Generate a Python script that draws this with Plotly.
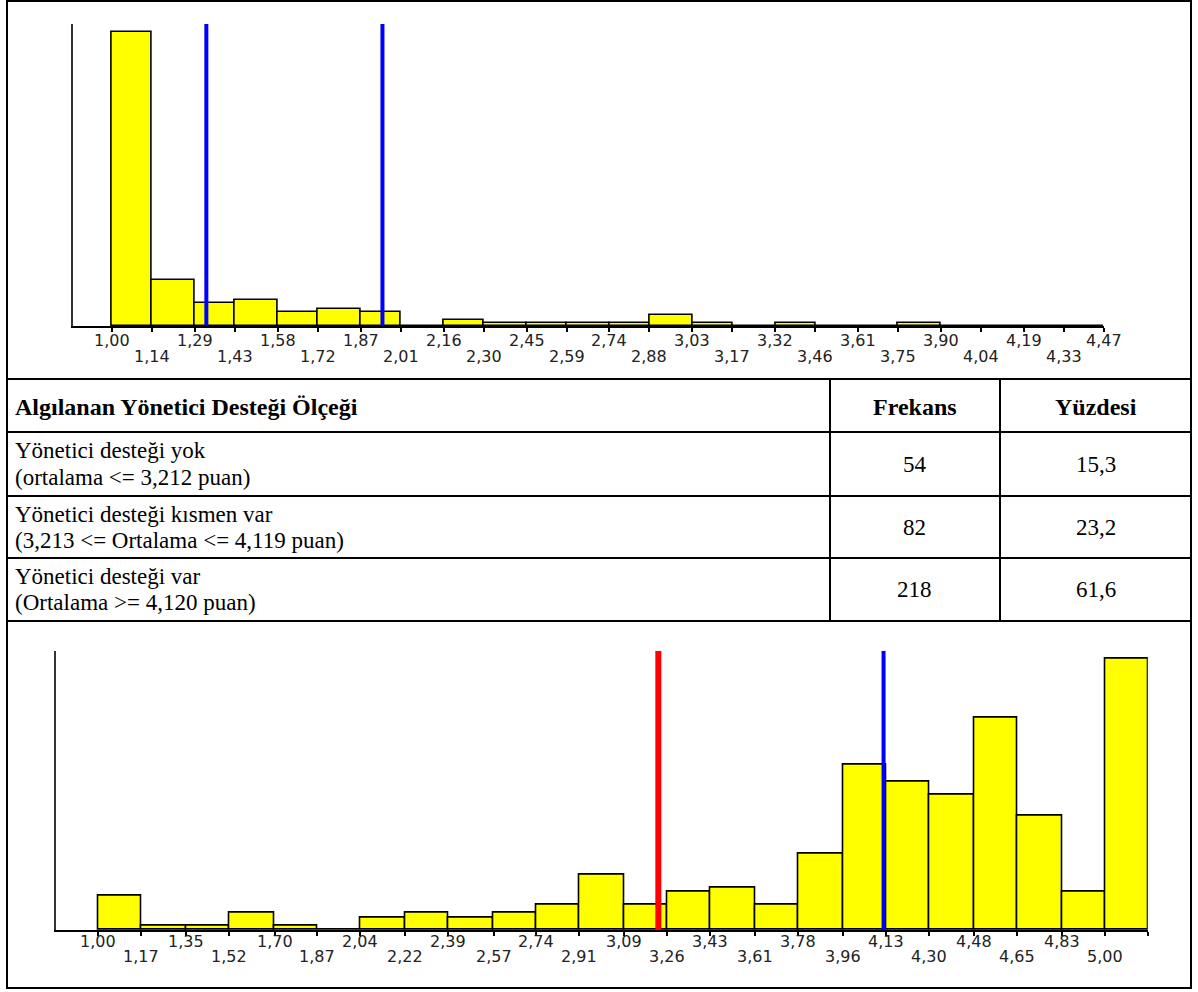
import plotly.graph_objects as go

W, H = 1198, 992

# ---------------- data ----------------
# top histogram (bin edges = tick labels)
top_edges = [1.00, 1.14, 1.29, 1.43, 1.58, 1.72, 1.87, 2.01, 2.16, 2.30, 2.45, 2.59, 2.74,
             2.88, 3.03, 3.17, 3.32, 3.46, 3.61, 3.75, 3.90, 4.04, 4.19, 4.33, 4.47]
top_labels = ["1,00", "1,14", "1,29", "1,43", "1,58", "1,72", "1,87", "2,01", "2,16", "2,30",
              "2,45", "2,59", "2,74", "2,88", "3,03", "3,17", "3,32", "3,46", "3,61", "3,75",
              "3,90", "4,04", "4,19", "4,33", "4,47"]
top_counts = [103, 16, 8, 9, 5, 6, 5, 0, 2, 1, 1, 1, 1, 4, 1, 0, 1, 0, 0, 1, 0, 0, 0, 0]
top_cut_lines = [1.33, 1.946]

# bottom histogram
bottom_edges = [1.00, 1.17, 1.35, 1.52, 1.70, 1.87, 2.04, 2.22, 2.39, 2.57, 2.74, 2.91, 3.09,
                3.26, 3.43, 3.61, 3.78, 3.96, 4.13, 4.30, 4.48, 4.65, 4.83, 5.00, 5.17]
bottom_labels = ["1,00", "1,17", "1,35", "1,52", "1,70", "1,87", "2,04", "2,22", "2,39", "2,57",
                 "2,74", "2,91", "3,09", "3,26", "3,43", "3,61", "3,78", "3,96", "4,13", "4,30",
                 "4,48", "4,65", "4,83", "5,00", ""]
bottom_counts = [8, 1, 1, 4, 1, 0, 3, 4, 3, 4, 6, 13, 6, 9, 10, 6, 18, 39, 35, 32, 50, 27, 9, 64]
bottom_cut_red = 3.225
bottom_cut_blue = 4.12

# table
table_header = ["Algılanan Yönetici Desteği Ölçeği", "Frekans", "Yüzdesi"]
table_categories = ["Yönetici desteği yok", "Yönetici desteği kısmen var", "Yönetici desteği var"]
table_ranges = ["(ortalama <= 3,212 puan)", "(3,213 <= Ortalama <= 4,119 puan)",
                "(Ortalama >= 4,120 puan)"]
table_freq = [54, 82, 218]
table_pct = [15.3, 23.2, 61.6]


# ---------------- helpers ----------------
def px(x):
    return x / W


def py(y):
    return 1 - y / H


def esc(s):
    return s.replace("&", "&amp;").replace("<", "&lt;").replace(">", "&gt;")


def bars(edges, counts, xa, ya):
    mids = [(edges[i] + edges[i + 1]) / 2 for i in range(len(counts))]
    widths = [edges[i + 1] - edges[i] for i in range(len(counts))]
    return go.Bar(x=mids, y=counts, width=widths, xaxis=xa, yaxis=ya,
                  marker=dict(color="#FFFF00", line=dict(color="black", width=1.6)),
                  hoverinfo="skip", showlegend=False)


fig = go.Figure()
fig.add_trace(bars(top_edges, top_counts, "x", "y"))
fig.add_trace(bars(bottom_edges, bottom_counts, "x2", "y2"))

TOP_YMAX = 105.7
BOT_YMAX = 65.9

axis_common = dict(showgrid=False, zeroline=False, fixedrange=True)
fig.update_layout(
    width=W, height=H, margin=dict(l=0, r=0, t=0, b=0),
    paper_bgcolor="white", plot_bgcolor="white", bargap=0, showlegend=False,
    xaxis=dict(domain=[px(72.7), px(1104)], range=[0.8625, 4.47], anchor="y",
               showline=True, linecolor="black", linewidth=2,
               ticks="outside", tickvals=top_edges, ticklen=4, tickwidth=1.5,
               tickcolor="black", showticklabels=False, **axis_common),
    yaxis=dict(domain=[py(326), py(24)], range=[0, TOP_YMAX], anchor="x",
               showline=True, linecolor="#333333", linewidth=1.6,
               showticklabels=False, ticks="", **axis_common),
    xaxis2=dict(domain=[px(56.3), px(1147.8)], range=[0.8327, 5.17], anchor="y2",
                showline=True, linecolor="black", linewidth=2,
                ticks="outside", tickvals=bottom_edges, ticklen=4, tickwidth=1.5,
                tickcolor="black", showticklabels=False, **axis_common),
    yaxis2=dict(domain=[py(930), py(650.7)], range=[0, BOT_YMAX], anchor="x2",
                showline=True, linecolor="#333333", linewidth=1.6,
                showticklabels=False, ticks="", **axis_common),
)

shapes = []
# cut lines
for c in top_cut_lines:
    shapes.append(dict(type="line", xref="x", yref="y", x0=c, x1=c, y0=0, y1=TOP_YMAX,
                       line=dict(color="#0000FF", width=4)))
shapes.append(dict(type="line", xref="x2", yref="y2", x0=bottom_cut_red, x1=bottom_cut_red,
                   y0=0, y1=BOT_YMAX, line=dict(color="#FF0000", width=6)))
shapes.append(dict(type="line", xref="x2", yref="y2", x0=bottom_cut_blue, x1=bottom_cut_blue,
                   y0=0, y1=BOT_YMAX, line=dict(color="#0000FF", width=4)))

# frame and table grid
BL, BR, BT, BB = 7, 1191, 1, 988
shapes.append(dict(type="rect", xref="paper", yref="paper", x0=px(BL), x1=px(BR),
                   y0=py(BB), y1=py(BT), line=dict(color="black", width=2)))
for yy in [379, 432, 496, 558, 621]:
    shapes.append(dict(type="line", xref="paper", yref="paper", x0=px(BL), x1=px(BR),
                       y0=py(yy), y1=py(yy), line=dict(color="black", width=2)))
for xx in [830, 1000]:
    shapes.append(dict(type="line", xref="paper", yref="paper", x0=px(xx), x1=px(xx),
                       y0=py(379), y1=py(621), line=dict(color="black", width=2)))

annotations = []
# tick labels in two staggered rows
LBL_FONT = dict(family="DejaVu Sans", size=16, color="#222222")
for i, (e, lab) in enumerate(zip(top_edges, top_labels)):
    annotations.append(dict(x=e, xref="x", y=py(340 if i % 2 == 0 else 356), yref="paper",
                            text=lab, showarrow=False, xanchor="center", yanchor="middle",
                            font=LBL_FONT))
for i, (e, lab) in enumerate(zip(bottom_edges, bottom_labels)):
    if not lab:
        continue
    annotations.append(dict(x=e, xref="x2", y=py(941.5 if i % 2 == 0 else 956.5), yref="paper",
                            text=lab, showarrow=False, xanchor="center", yanchor="middle",
                            font=LBL_FONT))

# table text
SERIF = "Liberation Serif"
HF = dict(family=SERIF, size=24, color="black")
TF = dict(family=SERIF, size=23, color="black")
hdr_y = 406.5
annotations.append(dict(x=px(13), y=py(hdr_y), xref="paper", yref="paper", showarrow=False,
                        xanchor="left", yanchor="middle", text="<b>" + esc(table_header[0]) + "</b>",
                        font=HF))
annotations.append(dict(x=px(915), y=py(hdr_y), xref="paper", yref="paper", showarrow=False,
                        xanchor="center", yanchor="middle", text="<b>" + esc(table_header[1]) + "</b>",
                        font=HF))
annotations.append(dict(x=px(1095.5), y=py(hdr_y), xref="paper", yref="paper", showarrow=False,
                        xanchor="center", yanchor="middle", text="<b>" + esc(table_header[2]) + "</b>",
                        font=HF))

row_centers = [464, 527, 589.5]
for cat, rng, f, p, yc in zip(table_categories, table_ranges, table_freq, table_pct, row_centers):
    annotations.append(dict(x=px(13), y=py(yc - 13), xref="paper", yref="paper",
                            showarrow=False, xanchor="left", yanchor="middle",
                            text=esc(cat), font=TF))
    annotations.append(dict(x=px(13), y=py(yc + 13), xref="paper", yref="paper",
                            showarrow=False, xanchor="left", yanchor="middle",
                            text=esc(rng), font=TF))
    annotations.append(dict(x=px(915), y=py(yc), xref="paper", yref="paper",
                            showarrow=False, xanchor="center", yanchor="middle",
                            text=str(f), font=TF))
    annotations.append(dict(x=px(1095.5), y=py(yc), xref="paper", yref="paper",
                            showarrow=False, xanchor="center", yanchor="middle",
                            text=f"{p:.1f}".replace(".", ","), font=TF))

fig.update_layout(shapes=shapes, annotations=annotations)
fig.write_html("out.html", config={"displayModeBar": False},
               post_script="document.body.style.margin='0';document.body.style.padding='0';")
